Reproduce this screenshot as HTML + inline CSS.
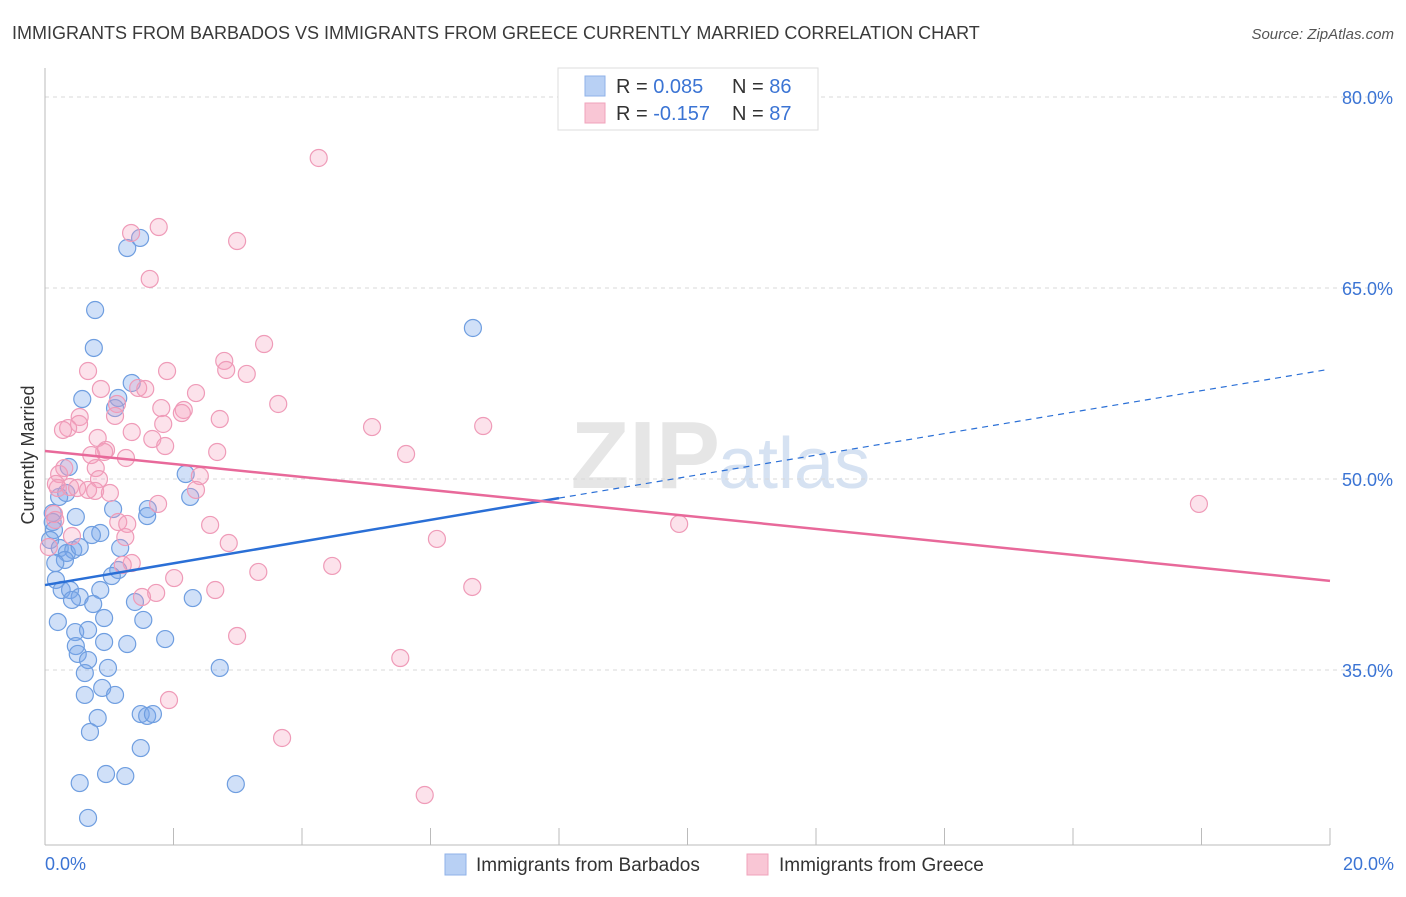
<!DOCTYPE html>
<html><head><meta charset="utf-8"><style>
body{margin:0;background:#fff;font-family:"Liberation Sans",sans-serif;}
svg text{font-family:"Liberation Sans",sans-serif;}
</style></head><body>
<svg id="chart" width="1406" height="892" xmlns="http://www.w3.org/2000/svg">
<text x="12" y="39" font-size="18" fill="#3a3a3a">IMMIGRANTS FROM BARBADOS VS IMMIGRANTS FROM GREECE CURRENTLY MARRIED CORRELATION CHART</text>
<text x="1394" y="39" font-size="15" fill="#555" text-anchor="end" font-style="italic">Source: ZipAtlas.com</text>
<text x="720" y="488" font-size="96" fill="#e6e6e6" text-anchor="end" font-family="Liberation Serif" font-weight="bold">ZIP</text>
<text x="718" y="488" font-size="72" fill="#d6e2f2">atlas</text>
<text transform="translate(34,455) rotate(-90)" font-size="18" fill="#333" text-anchor="middle">Currently Married</text>
<g id="grid"></g><g id="axes"></g><g id="pts"></g><g id="trend"></g>
<g>
<rect x="558" y="68" width="260" height="62" fill="#fff" stroke="#ddd"/>
<rect x="585" y="76" width="20" height="20" fill="#b8d0f4" stroke="#8fb2e8"/>
<rect x="585" y="103" width="20" height="20" fill="#f9c6d5" stroke="#f0a3bb"/>
<text x="616" y="93" font-size="20" fill="#333">R = <tspan fill="#3b74d4">0.085</tspan></text>
<text x="732" y="93" font-size="20" fill="#333">N = <tspan fill="#3b74d4">86</tspan></text>
<text x="616" y="120" font-size="20" fill="#333">R = <tspan fill="#3b74d4">-0.157</tspan></text>
<text x="732" y="120" font-size="20" fill="#333">N = <tspan fill="#3b74d4">87</tspan></text>
</g>
<g>
<rect x="445" y="854" width="21" height="21" fill="#b8d0f4" stroke="#8fb2e8"/>
<text x="476" y="871" font-size="19" fill="#333">Immigrants from Barbados</text>
<rect x="747" y="854" width="21" height="21" fill="#f9c6d5" stroke="#f0a3bb"/>
<text x="779" y="871" font-size="19" fill="#333">Immigrants from Greece</text>
</g>
</svg>
<script>
const yTicks=[80,65,50,35];
const xTickLabels=["0.0%","20.0%"];
const blueX=[1.28,1.48,0.78,0.76,6.66,1.35,0.58,1.14,1.09,0.37,2.19,2.26,1.60,1.59,1.06,0.48,0.12,0.12,0.14,0.08,0.23,0.34,0.44,0.31,0.16,0.54,0.86,0.73,1.17,1.14,1.04,0.17,0.26,0.39,0.86,0.54,0.42,0.75,1.40,2.30,0.20,0.47,0.67,0.92,1.53,1.28,1.87,0.48,0.92,0.51,0.67,0.62,0.98,2.72,0.62,0.89,1.09,0.82,0.70,1.49,1.59,1.68,1.49,0.54,0.95,1.25,2.97,0.67,0.22,0.33];
const blueY=[68.14,68.93,63.27,60.29,61.86,57.54,56.28,56.36,55.57,50.94,50.39,48.59,47.64,47.09,47.64,47.02,47.33,46.62,45.99,45.21,44.58,44.19,44.42,43.64,43.40,44.66,45.76,45.60,44.58,42.85,42.38,42.07,41.28,41.28,41.28,40.73,40.50,40.18,40.34,40.65,38.77,37.98,38.14,39.08,38.93,37.04,37.43,36.88,37.20,36.26,35.78,34.76,35.16,35.16,33.04,33.59,33.04,31.23,30.13,31.54,31.39,31.54,28.87,26.12,26.83,26.67,26.04,23.38,48.59,48.90];
const pinkX=[4.26,1.77,1.34,2.99,1.63,3.41,2.79,2.82,1.90,0.67,3.14,0.87,1.45,1.56,2.35,1.12,3.63,1.81,2.16,2.13,1.09,0.54,0.53,0.36,0.28,2.72,1.84,5.09,6.82,1.35,1.67,0.82,1.87,0.95,0.92,0.72,2.68,1.26,5.62,0.79,0.30,0.22,0.84,2.41,0.20,0.39,0.50,0.67,0.78,1.01,1.76,2.35,0.14,0.16,1.14,1.28,2.57,6.10,1.25,2.86,0.06,1.35,1.21,2.01,3.32,4.47,2.65,1.73,1.51,6.65,9.87,17.96,2.99,5.53,1.93,3.69,5.91,0.17,0.42];
const pinkY=[75.21,69.79,69.32,68.69,65.71,60.60,59.27,58.56,58.48,58.48,58.25,57.07,57.15,57.07,56.75,55.89,55.89,55.57,55.42,55.18,54.95,54.87,54.32,54.00,53.85,54.71,54.32,54.08,54.16,53.69,53.14,53.22,52.59,52.28,52.12,51.88,52.12,51.65,51.96,50.86,50.86,50.39,49.99,50.23,49.29,49.37,49.29,49.14,49.06,48.90,48.04,49.14,47.25,46.78,46.62,46.47,46.39,45.29,45.44,44.97,44.66,43.40,43.25,42.22,42.70,43.17,41.28,41.05,40.73,41.52,46.47,48.04,37.67,35.94,32.64,29.66,25.18,49.61,45.52];
const blueTrend=[[0,41.67],[8,48.5],[19.92,58.56]];
const pinkTrend=[[0,52.2],[20,42.0]];
const NS="http://www.w3.org/2000/svg";
const X=v=>45+v*64.25, Y=v=>97+(80-v)*12.733;
function mk(tag,attrs,parent){const e=document.createElementNS(NS,tag);for(const k in attrs)e.setAttribute(k,attrs[k]);document.getElementById(parent).appendChild(e);return e;}
yTicks.forEach(t=>{
 const l=mk('line',{x1:45,x2:1392,y1:Y(t),y2:Y(t),stroke:'#d8d8d8','stroke-dasharray':'4 4'},'grid');
 
 
 const tx=mk('text',{x:1393,y:Y(t)+7,'font-size':18,fill:'#3b74d4','text-anchor':'end'},'grid');tx.textContent=t.toFixed(1)+'%';
 
 
});
const ax=mk('line',{x1:45,x2:45,y1:68,y2:845,stroke:'#bbb'},'axes');


const bx=mk('line',{x1:45,x2:1330,y1:845,y2:845,stroke:'#bbb'},'axes');


for(let i=0;i<=10;i++){const t=mk('line',{x1:X(i*2),x2:X(i*2),y1:828,y2:845,stroke:'#bbb'},'axes');
 
 }
xTickLabels.forEach((s,i)=>{const t=mk('text',{x:i?1394:45,y:870,'font-size':18,fill:'#3b74d4','text-anchor':i?'end':'start'},'axes');t.textContent=s;
 
 });
function pts(xs,ys,fill,stroke,name){xs.forEach((x,i)=>{const c=mk('circle',{cx:X(x),cy:Y(ys[i]),r:8.5,fill:fill,stroke:stroke,'stroke-width':1.2},'pts');
 
 });}
pts(blueX,blueY,'rgba(120,165,235,0.35)','#6f9ee0','point-barbados');
pts(pinkX,pinkY,'rgba(245,160,190,0.3)','#ef9bb8','point-greece');
const b1=mk('line',{x1:X(blueTrend[0][0]),y1:Y(blueTrend[0][1]),x2:X(blueTrend[1][0]),y2:Y(blueTrend[1][1]),stroke:'#2a6fd6','stroke-width':2.5},'trend');


const b2=mk('line',{x1:X(blueTrend[1][0]),y1:Y(blueTrend[1][1]),x2:X(blueTrend[2][0]),y2:Y(blueTrend[2][1]),stroke:'#2a6fd6','stroke-width':1.2,'stroke-dasharray':'6 5'},'trend');


const p1=mk('line',{x1:X(pinkTrend[0][0]),y1:Y(pinkTrend[0][1]),x2:X(pinkTrend[1][0]),y2:Y(pinkTrend[1][1]),stroke:'#e8699a','stroke-width':2.5},'trend');


</script>
</body></html>
